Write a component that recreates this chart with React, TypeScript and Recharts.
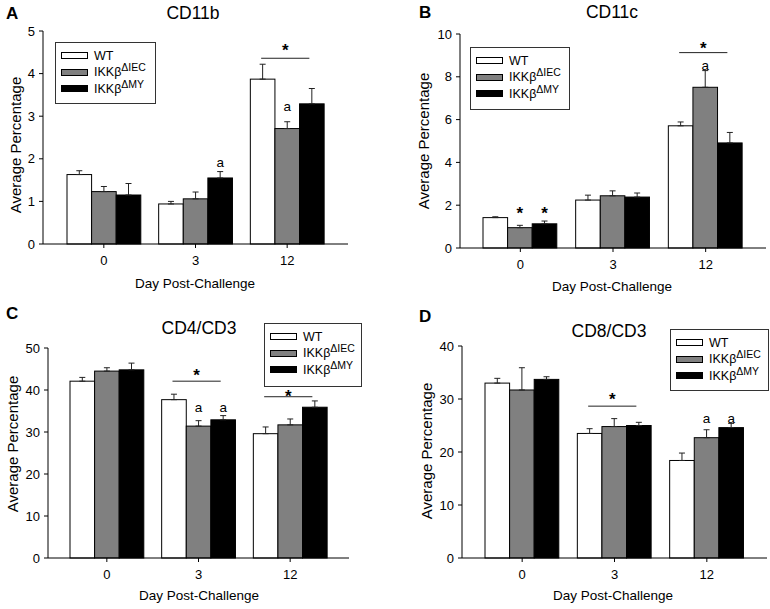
import React from "react";
import { BarChart, Bar, XAxis, YAxis, ErrorBar } from "recharts";

const days = ["0", "3", "12"];
const seriesNames = ["WT", "IKKβ", "IKKβ"];
const seriesSups = ["", "ΔIEC", "ΔMY"];

// CD11b
const cd11bWT = [1.63, 0.94, 3.87];
const cd11bWTErr = [0.09, 0.06, 0.35];
const cd11bIEC = [1.23, 1.06, 2.71];
const cd11bIECErr = [0.12, 0.16, 0.16];
const cd11bMY = [1.15, 1.55, 3.29];
const cd11bMYErr = [0.27, 0.15, 0.36];
const cd11bIECMarks = ["", "", "a"];
const cd11bMYMarks = ["", "a", ""];
const cd11bMarkLevel = [0, 1.9, 3.22];
const cd11bBracket = [0, 0, 4.36];
const cd11bBracketStar = [0, 0, 4.64];
const cd11bTicks = [0, 1, 2, 3, 4, 5];

// CD11c
const cd11cWT = [1.42, 2.24, 5.71];
const cd11cWTErr = [0.04, 0.23, 0.18];
const cd11cIEC = [0.95, 2.44, 7.51];
const cd11cIECErr = [0.11, 0.23, 0.78];
const cd11cMY = [1.13, 2.38, 4.91];
const cd11cMYErr = [0.13, 0.19, 0.49];
const cd11cIECMarks = ["*", "", "a"];
const cd11cMYMarks = ["*", "", ""];
const cd11cMarkLevel = [1.8, 0, 8.5];
const cd11cBracket = [0, 0, 9.13];
const cd11cBracketStar = [0, 0, 9.55];
const cd11cTicks = [0, 2, 4, 6, 8, 10];

// CD4/CD3
const cd4WT = [42.1, 37.7, 29.6];
const cd4WTErr = [0.9, 1.3, 1.6];
const cd4IEC = [44.5, 31.4, 31.7];
const cd4IECErr = [0.8, 1.3, 1.4];
const cd4MY = [44.8, 32.9, 35.9];
const cd4MYErr = [1.6, 1.0, 1.5];
const cd4IECMarks = ["", "a", ""];
const cd4MYMarks = ["", "a", ""];
const cd4MarkLevel = [0, 35.6, 0];
const cd4Bracket = [0, 42.1, 38.4];
const cd4BracketStar = [0, 44.5, 39.6];
const cd4Ticks = [0, 10, 20, 30, 40, 50];

// CD8/CD3
const cd8WT = [33.0, 23.5, 18.4];
const cd8WTErr = [0.9, 0.9, 1.4];
const cd8IEC = [31.7, 24.8, 22.7];
const cd8IECErr = [4.2, 1.5, 1.5];
const cd8MY = [33.7, 25.0, 24.6];
const cd8MYErr = [0.5, 0.6, 0.8];
const cd8IECMarks = ["", "", "a"];
const cd8MYMarks = ["", "", "a"];
const cd8MarkLevel = [0, 0, 26.3];
const cd8Bracket = [0, 28.65, 0];
const cd8BracketStar = [0, 30.7, 0];
const cd8Ticks = [0, 10, 20, 30, 40];

const FONT = '"Liberation Sans", Arial, sans-serif';
const fills = ["#ffffff", "#808080", "#000000"];

function buildRows(
  wt: number[], wtErr: number[], iec: number[], iecErr: number[], my: number[], myErr: number[],
  iecMarks: string[], myMarks: string[], markLevel: number[], bracket: number[], bracketStar: number[]
) {
  return days.map((day, i) => ({
    day,
    wt: wt[i],
    wtErr: [0, wtErr[i]],
    iec: iec[i],
    iecErr: [0, iecErr[i]],
    my: my[i],
    myErr: [0, myErr[i]],
    wtMark: "",
    iecMark: iecMarks[i],
    myMark: myMarks[i],
    markLevel: markLevel[i],
    bracket: bracket[i],
    bracketStar: bracketStar[i],
  }));
}

// asterisk glyph sits high in the em box, so shift the baseline down to center it
const STAR_SIZE = 17;
const STAR_SHIFT = 10;
const A_SIZE = 13.5;
const A_SHIFT = 4;

function makeBarShape(valueKey: string, markKey: string, withBracket: boolean) {
  return (props: any) => {
    const { x, y, width, height, fill, payload } = props;
    const v = payload[valueKey];
    const ppu = v > 0 ? height / v : 0;
    const base = y + height;
    const cx = x + width / 2;
    const mark = payload[markKey];
    const isStar = mark === "*";
    return (
      <g>
        <rect x={x} y={y} width={width} height={height} fill={fill} stroke="#000" strokeWidth={1} />
        {mark ? (
          <text
            x={cx}
            y={base - payload.markLevel * ppu + (isStar ? STAR_SHIFT : A_SHIFT)}
            textAnchor="middle"
            fontSize={isStar ? STAR_SIZE : A_SIZE}
            fontWeight={isStar ? "bold" : "normal"}
            fill="#000"
          >
            {mark}
          </text>
        ) : null}
        {withBracket && payload.bracket > 0 ? (
          <g>
            <line
              x1={cx - width * 1.06}
              x2={cx + width * 0.9}
              y1={base - payload.bracket * ppu}
              y2={base - payload.bracket * ppu}
              stroke="#222"
              strokeWidth={1}
            />
            <text
              x={cx - 2}
              y={base - payload.bracketStar * ppu + STAR_SHIFT}
              textAnchor="middle"
              fontSize={STAR_SIZE}
              fontWeight="bold"
              fill="#000"
            >
              *
            </text>
          </g>
        ) : null}
      </g>
    );
  };
}

const wtShape = makeBarShape("wt", "wtMark", false);
const iecShape = makeBarShape("iec", "iecMark", true);
const myShape = makeBarShape("my", "myMark", false);

function LegendBox({ box }: { box: number[] }) {
  const [left, top, w, h] = box;
  const rowCenters = [12.5, 29, 45.5];
  return (
    <div
      style={{
        position: "absolute", left, top, width: w, height: h, boxSizing: "border-box",
        border: "1px solid #333", background: "#fff",
      }}
    >
      {seriesNames.map((name, i) => (
        <div key={i} style={{ position: "absolute", left: 5, top: rowCenters[i] - 8, height: 16, display: "flex", alignItems: "center" }}>
          <span style={{ display: "inline-block", width: 27, height: 7, border: "1px solid #000", background: fills[i], boxSizing: "border-box" }} />
          <span style={{ marginLeft: 6, fontSize: 12.5, lineHeight: "16px", whiteSpace: "nowrap" }}>
            {name}
            {seriesSups[i] ? (
              <span style={{ fontSize: 10.5, position: "relative", top: -5 }}>{seriesSups[i]}</span>
            ) : null}
          </span>
        </div>
      ))}
    </div>
  );
}

type PanelCfg = {
  rows: any[];
  ticks: number[];
  title: string;
  letter: string;
  pos: [number, number];
  size: [number, number];
  plot: [number, number, number, number]; // left, top, right, bottom (panel coords)
  pad: number;
  titleAt: [number, number];
  letterAt: [number, number];
  legend: number[];
  yLabelAt: [number, number];
  xLabelAt: [number, number];
};

const X_AXIS_H = 30;
const BAR_SIZE = 24.6;

function Panel({ cfg }: { cfg: PanelCfg }) {
  const [W, H] = cfg.size;
  const [pl, pt, pr, pb] = cfg.plot;
  const top = cfg.ticks[cfg.ticks.length - 1];
  return (
    <div style={{ position: "absolute", left: cfg.pos[0], top: cfg.pos[1], width: W, height: H }}>
      <BarChart
        width={W}
        height={H}
        data={cfg.rows}
        margin={{ top: pt, left: 0, right: W - pr, bottom: H - pb - X_AXIS_H }}
        barGap={0}
        barSize={BAR_SIZE}
      >
        <XAxis
          dataKey="day"
          height={X_AXIS_H}
          padding={{ left: cfg.pad, right: cfg.pad }}
          tickSize={4}
          tickMargin={8}
          tick={{ fontSize: 13, fill: "#000" }}
          tickLine={{ stroke: "#000" }}
          axisLine={{ stroke: "#000" }}
        />
        <XAxis
          xAxisId="top"
          orientation="top"
          dataKey="day"
          height={0}
          tick={false}
          tickLine={false}
          axisLine={{ stroke: "#000" }}
        />
        <YAxis
          width={pl}
          domain={[0, top]}
          ticks={cfg.ticks}
          interval={0}
          tickSize={4}
          tickMargin={4}
          tick={{ fontSize: 13, fill: "#000" }}
          tickLine={{ stroke: "#000" }}
          axisLine={{ stroke: "#000" }}
        />
        <YAxis
          yAxisId="right"
          orientation="right"
          width={0}
          domain={[0, 1]}
          tick={false}
          tickLine={false}
          axisLine={{ stroke: "#000" }}
        />
        <Bar dataKey="wt" fill={fills[0]} shape={wtShape} isAnimationActive={false}>
          <ErrorBar dataKey="wtErr" width={3} stroke="#222" strokeWidth={1} direction="y" />
        </Bar>
        <Bar dataKey="iec" fill={fills[1]} shape={iecShape} isAnimationActive={false}>
          <ErrorBar dataKey="iecErr" width={3} stroke="#222" strokeWidth={1} direction="y" />
        </Bar>
        <Bar dataKey="my" fill={fills[2]} shape={myShape} isAnimationActive={false}>
          <ErrorBar dataKey="myErr" width={3} stroke="#222" strokeWidth={1} direction="y" />
        </Bar>
      </BarChart>
      <svg width={W} height={H} style={{ position: "absolute", left: 0, top: 0, pointerEvents: "none" }}>
        <text
          x={cfg.yLabelAt[0]}
          y={cfg.yLabelAt[1]}
          transform={`rotate(-90, ${cfg.yLabelAt[0]}, ${cfg.yLabelAt[1]})`}
          textAnchor="middle"
          dominantBaseline="central"
          fontSize={15}
          fill="#000"
        >
          Average Percentage
        </text>
        <text x={cfg.xLabelAt[0]} y={cfg.xLabelAt[1]} textAnchor="middle" dominantBaseline="central" fontSize={13.5} fill="#000">
          Day Post-Challenge
        </text>
        <text x={cfg.titleAt[0]} y={cfg.titleAt[1]} textAnchor="middle" dominantBaseline="central" fontSize={17.5} fill="#000">
          {cfg.title}
        </text>
        <text x={cfg.letterAt[0]} y={cfg.letterAt[1]} dominantBaseline="central" fontSize={17} fontWeight="bold" fill="#000">
          {cfg.letter}
        </text>
      </svg>
      <LegendBox box={cfg.legend} />
    </div>
  );
}

const panels: PanelCfg[] = [
  {
    rows: buildRows(cd11bWT, cd11bWTErr, cd11bIEC, cd11bIECErr, cd11bMY, cd11bMYErr, cd11bIECMarks, cd11bMYMarks, cd11bMarkLevel, cd11bBracket, cd11bBracketStar),
    ticks: cd11bTicks,
    title: "CD11b",
    letter: "A",
    pos: [0, 0],
    size: [385, 300],
    plot: [43, 31, 348, 244],
    pad: 15,
    titleAt: [193, 13],
    letterAt: [6, 13],
    legend: [55, 42, 101, 62],
    yLabelAt: [15, 145],
    xLabelAt: [195, 283],
  },
  {
    rows: buildRows(cd11cWT, cd11cWTErr, cd11cIEC, cd11cIECErr, cd11cMY, cd11cMYErr, cd11cIECMarks, cd11cMYMarks, cd11cMarkLevel, cd11cBracket, cd11cBracketStar),
    ticks: cd11cTicks,
    title: "CD11c",
    letter: "B",
    pos: [385, 0],
    size: [385, 300],
    plot: [75, 34, 381, 248],
    pad: 14,
    titleAt: [227, 12],
    letterAt: [34, 12],
    legend: [85, 47, 100, 63],
    yLabelAt: [38, 141],
    xLabelAt: [227, 286],
  },
  {
    rows: buildRows(cd4WT, cd4WTErr, cd4IEC, cd4IECErr, cd4MY, cd4MYErr, cd4IECMarks, cd4MYMarks, cd4MarkLevel, cd4Bracket, cd4BracketStar),
    ticks: cd4Ticks,
    title: "CD4/CD3",
    letter: "C",
    pos: [0, 300],
    size: [385, 309],
    plot: [48, 48, 349, 258],
    pad: 13,
    titleAt: [199, 27.5],
    letterAt: [6, 13.5],
    legend: [264, 23, 98, 64],
    yLabelAt: [12, 144],
    xLabelAt: [199, 295],
  },
  {
    rows: buildRows(cd8WT, cd8WTErr, cd8IEC, cd8IECErr, cd8MY, cd8MYErr, cd8IECMarks, cd8MYMarks, cd8MarkLevel, cd8Bracket, cd8BracketStar),
    ticks: cd8Ticks,
    title: "CD8/CD3",
    letter: "D",
    pos: [385, 300],
    size: [385, 309],
    plot: [77, 46, 382, 258],
    pad: 14,
    titleAt: [224, 31],
    letterAt: [34, 16],
    legend: [285, 29, 99, 62],
    yLabelAt: [41, 151],
    xLabelAt: [228, 295],
  },
];

export default function App() {
  return (
    <div
      style={{
        position: "absolute", left: 0, top: 0, width: 770, height: 609,
        background: "#fff", fontFamily: FONT, color: "#000", overflow: "hidden",
      }}
    >
      {panels.map((p) => (
        <Panel key={p.letter} cfg={p} />
      ))}
    </div>
  );
}
